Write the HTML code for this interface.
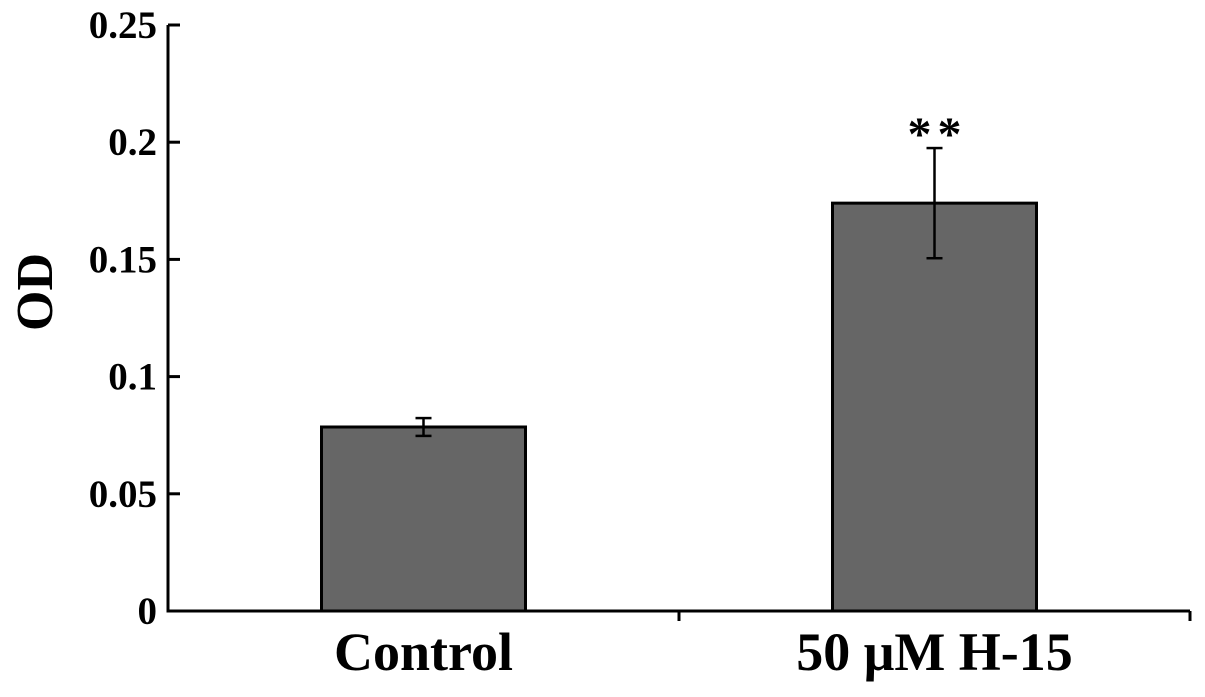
<!DOCTYPE html>
<html><head><meta charset="utf-8"><style>
body{margin:0;background:#fff;}
svg text{font-family:"Liberation Serif",serif;font-weight:bold;fill:#000;}
</style></head><body>
<svg id="chart" width="1205" height="692" xmlns="http://www.w3.org/2000/svg"></svg>
<script>
const categories=["Control","50 μM H-15"];
const values=[0.0785,0.174];
const errors=[0.0038,0.0235];
const sig=["","**"];
const yTicks=[0,0.05,0.1,0.15,0.2,0.25];
const yTickLabels=["0","0.05","0.1","0.15","0.2","0.25"];
const svg=document.getElementById('chart');
const NS="http://www.w3.org/2000/svg";
const x0=168,x1=1190,y0=611,yTop=25;
function y(v){return y0-(v/0.25)*(y0-yTop);}
function bandCenter(i){return x0+(x1-x0)*(i+0.5)/categories.length;}
const barW=204;
function mk(t,a,parent){const e=document.createElementNS(NS,t);for(const k in a)e.setAttribute(k,a[k]);(parent||svg).appendChild(e);return e;}
categories.forEach((c,i)=>{
 const cx=bandCenter(i);
 const b=mk('rect',{x:cx-barW/2,y:y(values[i]),width:barW,height:y0-y(values[i]),fill:'#666',stroke:'#000','stroke-width':3});
 
 
 const g=mk('g',{stroke:'#000','stroke-width':2.5});
 
 
 const hi=y(values[i]+errors[i]),lo=y(values[i]-errors[i]);
 mk('line',{x1:cx,x2:cx,y1:hi,y2:lo},g);
 mk('line',{x1:cx-8,x2:cx+8,y1:hi,y2:hi},g);
 mk('line',{x1:cx-8,x2:cx+8,y1:lo,y2:lo},g);
 if(sig[i]){const s=mk('text',{x:cx+3,y:hi+2,'text-anchor':'middle','font-size':48,'letter-spacing':6});s.textContent=sig[i];
 
 }
 const t=mk('text',{x:cx,y:670,'text-anchor':'middle','font-size':54});t.textContent=c;
 
 
});
const ax=mk('g',{stroke:'#000','stroke-width':3,fill:'none'});


mk('line',{x1:x0,x2:x0,y1:yTop,y2:y0+1.5},ax);
mk('line',{x1:x0,x2:x1,y1:y0,y2:y0},ax);
mk('line',{x1:(x0+x1)/2,x2:(x0+x1)/2,y1:y0,y2:y0+10},ax);
mk('line',{x1:x1,x2:x1,y1:y0,y2:y0+10},ax);
yTicks.forEach((v,i)=>{
 mk('line',{x1:x0,x2:x0+12,y1:y(v),y2:y(v)},ax);
 const t=mk('text',{x:157,y:y(v)+13,'text-anchor':'end','font-size':39});t.textContent=yTickLabels[i];
 
 
});
const yl=mk('text',{x:0,y:0,'text-anchor':'middle','font-size':52,transform:'translate(52,292) rotate(-90)'});yl.textContent="OD";


</script>
</body></html>
